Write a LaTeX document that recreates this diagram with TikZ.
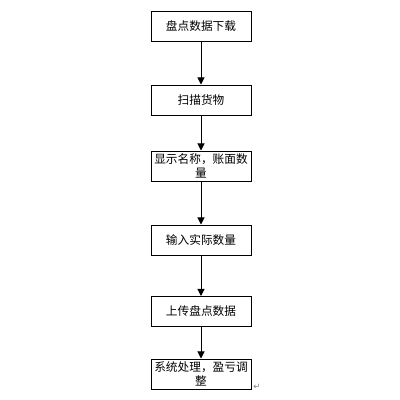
\documentclass[tikz,border=0pt]{standalone}
\usepackage{fontspec}
\usepackage{tikz, amsmath, amssymb}
\usetikzlibrary{arrows.meta}
\newfontfamily\cjk{Noto Sans CJK SC}
\newfontfamily\symfont{DejaVu Sans}

\begin{document}
\begin{tikzpicture}[x=0.25mm, y=-0.25mm,
		box/.style={draw, line width=0.7pt, minimum width=25mm, minimum height=7.5mm,
			inner sep=1pt, align=center, font=\cjk\fontsize{8.3}{9.6}\selectfont},
		flow/.style={-{Triangle[length=5pt, width=5pt]}, line width=0.7pt}]
	\useasboundingbox (0,0) rectangle (400,400);
	\node (A) at (201,26)    [box] {盘点数据下载};
	\node (B) at (201,100)   [box] {扫描货物};
	\node (C) at (201,166)   [box] {显示名称，账面数\\量};
	\node (D) at (201,240)   [box] {输入实际数量};
	\node (E) at (201,311.5) [box] {上传盘点数据};
	\node (F) at (201,374)   [box] {系统处理，盈亏调\\整};
	\node (G) at (257,387)   [text=gray, font=\symfont\fontsize{6}{6}\selectfont, inner sep=0pt] {↵};
	% Draw an arrow between the boxes
	\draw[flow] (A) -- (B);
	\draw[flow] (B) -- (C);
	\draw[flow] (C) -- (D);
	\draw[flow] (D) -- (E);
	\draw[flow] (E) -- (F);
\end{tikzpicture}
\end{document}
